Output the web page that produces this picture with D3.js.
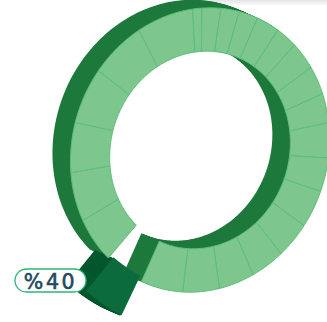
<!DOCTYPE html>
<html><head><meta charset="utf-8">
<style>html,body{margin:0;padding:0;background:#fff;overflow:hidden}svg{display:block}</style>
<script src="https://cdn.jsdelivr.net/npm/d3@7/dist/d3.min.js"></script>
</head><body><div id="c"></div>
<script>
// angular size of each ring segment in degrees, clockwise from the end of the gap
const segmentDegrees = [18.7,21,22.5,25.5,25,24,3.8,7.6,7.4,7.8,9.4,9,11.3,12,12.7,15.6,15.4,17,16,15,15,15,17];
const gapDegrees = [16.3];
const labelTexts = ["%40"];

const W=327,H=322;
const rad=d3.scaleLinear().domain([0,360]).range([0,2*Math.PI]);
const cx=200,cy=150,tilt=rad(20),startDeg=220.3;
const outer={a:144,b:127.5}, inner={a:100,b:89};
const depth={x:-18,y:-8}, pull=40;
const ellipseR=(e,t)=>e.a*e.b/Math.hypot(e.b*Math.cos(t-tilt),e.a*Math.sin(t-tilt));

const pie=d3.pie().sort(null).value(d=>d.v).startAngle(rad(startDeg)).endAngle(rad(startDeg+360));
const arcs=pie([...segmentDegrees.map(v=>({v,kind:"seg"})),...gapDegrees.map(v=>({v,kind:"gap"}))]);
const segs=arcs.filter(d=>d.data.kind==="seg"), gap=arcs.find(d=>d.data.kind==="gap");

const radial=d3.lineRadial().angle(d=>d.t).radius(d=>d.r);
function wedge(t0,t1,extra=0){
  const n=Math.max(2,Math.ceil((t1-t0)/rad(1)));
  const ts=d3.range(n+1).map(i=>t0+(t1-t0)*i/n);
  const pts=[...ts.map(t=>({t,r:ellipseR(outer,t)+extra})),...ts.slice().reverse().map(t=>({t,r:ellipseR(inner,t)+extra}))];
  return radial(pts)+"Z";
}
const svg=d3.select("#c").append("svg").attr("width",W).attr("height",H);
const defs=svg.append("defs");
const grad=defs.append("linearGradient").attr("id","topShade").attr("x1",0).attr("x2",0).attr("y1",0).attr("y2",1);
grad.append("stop").attr("offset",0).attr("stop-color","#e4e4e4");
grad.append("stop").attr("offset",1).attr("stop-color","#ffffff");
svg.append("rect").attr("x",W*0.6).attr("y",0).attr("width",W*0.4).attr("height",H*0.018).attr("fill","url(#topShade)");

const g=svg.append("g").attr("transform",`translate(${cx},${cy})`);
const steps=d3.range(1,0,-0.05);

const pad=rad(1.4);
const pT0=gap.startAngle+pad,pT1=gap.endAngle-pad;

// ring extrusion
const ringT0=segs[0].startAngle, ringT1=segs[segs.length-1].endAngle;
g.append("g").selectAll("path").data(steps).join("path")
  .attr("d",wedge(ringT0,ringT1))
  .attr("transform",k=>`translate(${depth.x*k},${depth.y*k})`)
  .attr("fill","#1e793c");

// pulled-out slice
g.append("g").selectAll("path").data(steps).join("path")
  .attr("d",wedge(pT0,pT1,pull))
  .attr("transform",k=>`translate(${depth.x*k},${depth.y*k})`)
  .attr("fill","#04562c");
g.append("path").attr("d",wedge(pT0,pT1,pull-1)).attr("fill","#0b6b3a");

// ring front
g.append("g").selectAll("path").data(segs).join("path")
  .attr("d",d=>wedge(d.startAngle,d.endAngle))
  .attr("fill","#7dc68e").attr("stroke","#5cc078").attr("stroke-width",1).attr("stroke-linejoin","round");

// label
const lab=svg.append("g");
lab.append("rect").attr("x",15).attr("y",269).attr("width",71).attr("height",23).attr("rx",11.5)
  .attr("fill","#fff").attr("stroke","#2bb673").attr("stroke-width",1.3);
lab.selectAll("text").data(labelTexts).join("text")
  .attr("x",50.5).attr("y",289).attr("text-anchor","middle")
  .attr("font-family","'DejaVu Sans', sans-serif").attr("font-size",20.5)
  .attr("stroke","#1e4a5e").attr("stroke-width",0.6)
  .attr("letter-spacing",2.6).attr("fill","#1e4a5e").text(d=>d);
</script></body></html>
